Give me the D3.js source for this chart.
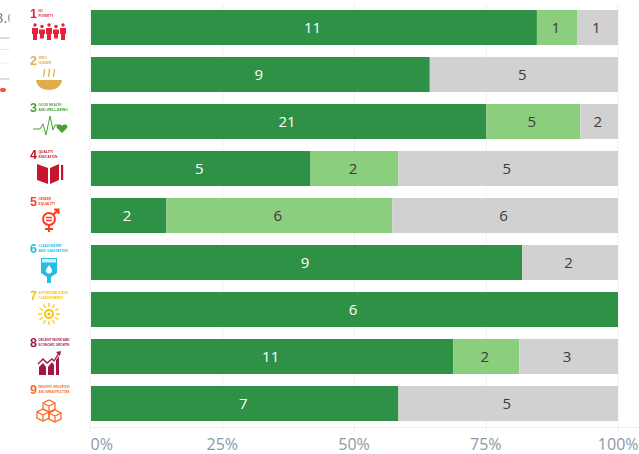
<!DOCTYPE html>
<html><head><meta charset="utf-8">
<script src="https://cdn.jsdelivr.net/npm/d3@7"></script>
<style>html,body{margin:0;padding:0;background:#fff;overflow:hidden}svg{display:block}</style>
</head><body><svg id="c" width="639" height="454"></svg>
<script>
const goals = ["1","2","3","4","5","6","7","8","9"];
const goalLines = [
  ["NO","POVERTY"],["ZERO","HUNGER"],["GOOD HEALTH","AND WELL-BEING"],["QUALITY","EDUCATION"],
  ["GENDER","EQUALITY"],["CLEAN WATER","AND SANITATION"],["AFFORDABLE AND","CLEAN ENERGY"],
  ["DECENT WORK AND","ECONOMIC GROWTH"],["INDUSTRY, INNOVATION","AND INFRASTRUCTURE"]];
const goalColors = ["#e5243b","#e0ad4a","#4c9f38","#c5192d","#ff3a21","#26bde2","#fcc30b","#a21942","#fd6925"];
const dark = [11,9,21,5,2,9,6,11,7];
const light = [1,0,5,2,6,0,0,2,0];
const grey = [1,5,2,5,6,2,0,3,5];
const tickValues = [0,.25,.5,.75,1];
const segColors = ["#2e9145","#8ace7e","#d1d1d1"];
const textColors = ["#ffffff","#3c3c3c","#3c3c3c"];

const svg = d3.select("#c");
const defs = svg.append("defs");
defs.append("filter").attr("id","soft").append("feGaussianBlur").attr("stdDeviation",0.5);
defs.append("clipPath").attr("id","fragClip").append("rect").attr("width",9.5).attr("height",100);

const x = d3.scaleLinear().domain([0,1]).range([91,618]);
const y = d3.scaleBand().domain(goals).range([4,427]).paddingInner(12/47).paddingOuter(6/47);

// grid
const grid = svg.append("g");
grid.selectAll("line.v").data(tickValues).join("line")
  .attr("x1",d=>x(d)-(d===0?1:0)).attr("x2",d=>x(d)-(d===0?1:0)).attr("y1",4).attr("y2",432)
  .attr("stroke","#f0f0f0").attr("stroke-width",1);
grid.append("line").attr("x1",90).attr("x2",639).attr("y1",427.5).attr("y2",427.5).attr("stroke","#f0f0f0");

// bars
const rows = goals.map((g,i)=>{
  const vals=[dark[i],light[i],grey[i]], total=d3.sum(vals); let c=0;
  return vals.map((v,k)=>{const s={g,k,v,a:c/total,b:(c+v)/total};c+=v;return s;}).filter(s=>s.v>0);
}).flat();
svg.append("g").selectAll("rect").data(rows).join("rect")
  .attr("x",d=>x(d.a)).attr("width",d=>x(d.b)-x(d.a))
  .attr("y",d=>y(d.g)).attr("height",y.bandwidth()).attr("fill",d=>segColors[d.k]);
svg.append("g").selectAll("text").data(rows).join("text")
  .attr("x",d=>x((d.a+d.b)/2)).attr("y",d=>y(d.g)+y.bandwidth()/2+0.5)
  .attr("dx",-1.5).attr("dy","0.35em").attr("text-anchor","middle")
  .attr("font-family","'Open Sans',sans-serif").attr("font-size",15)
  .attr("fill",d=>textColors[d.k]).text(d=>d.v);

// axis
const axis = svg.append("g").attr("transform","translate(0,432)")
  .call(d3.axisBottom(x).tickValues(tickValues).tickFormat(d3.format(".0%")).tickSize(0).tickPadding(7));
axis.select(".domain").remove();
axis.selectAll("text").attr("font-family","'Open Sans',sans-serif").attr("font-size",16).attr("fill","#8c99a6")
  .attr("text-anchor",d=>d===0?"start":d===1?"end":"middle")
  .attr("dx",d=>d===0?-1:d===1?20:-1);

// goal icons
const icon = svg.append("g").attr("filter","url(#soft)");
goals.forEach((g,i)=>{
  const t = y(g)-10, col = goalColors[i];
  const G = icon.append("g").attr("transform",`translate(0,${t})`);
  G.append("text").attr("x",30).attr("y",18).attr("font-family","'Liberation Sans Narrow','Liberation Sans',sans-serif")
    .attr("font-weight","bold").attr("font-size",12.5).attr("fill",col).text(g);
  goalLines[i].forEach((l,j)=>G.append("text").attr("x",38.5).attr("y",12+j*4.6)
    .attr("font-family","'Liberation Sans',sans-serif").attr("font-weight","bold").attr("font-size",3.4)
    .attr("textLength",Math.min(l.length*2.1,31)).attr("lengthAdjust","spacingAndGlyphs")
    .attr("fill",col).text(l));
  const ic = G.append("g").attr("transform","translate(49,32)").attr("fill",col).attr("stroke","none");
  drawIcon(ic,i,col);
});

function drawIcon(s,i,col){
  const st=(sel,w)=>sel.attr("fill","none").attr("stroke",col).attr("stroke-width",w);
  if(i===0){ // people
    [-14,-7,0,7,14].forEach((cx,k)=>{
      const h=k%2?0.75:1;
      s.append("circle").attr("cx",cx).attr("cy",-7+(1-h)*6).attr("r",1.7);
      s.append("path").attr("d",`M${cx-3},${-4+(1-h)*6}h6v${6*h}h-1v${6*h}h-4v${-6*h}h-1z`);
    });
  } else if(i===1){ // soup bowl
    s.append("path").attr("d","M-13,1H13C12,8 6,11 0,11S-12,8 -13,1Z");
    [-5,0,5].forEach(dx=>st(s.append("path").attr("d",`M${dx},-2c-2,-3 2,-4 0,-8`),1.3));
  } else if(i===2){ // heartbeat + heart
    st(s.append("path").attr("d","M-16,3H-9L-6,-2L-3,9L1,-10L4,4L6,-1H9"),1);
    s.append("path").attr("d","M13,7L8,2C6,-1 11,-3 13,0C15,-3 20,-1 18,2Z");
  } else if(i===3){ // book + pencil
    s.append("path").attr("d","M-12,-9L-1,-5V11L-12,7Z");
    s.append("path").attr("d","M10,-9L1,-5V11L10,7Z");
    s.append("rect").attr("x",12).attr("y",-8).attr("width",2.2).attr("height",15);
  } else if(i===4){ // gender
    st(s.append("circle").attr("cx",0).attr("cy",-1).attr("r",6),2);
    st(s.append("path").attr("d","M0,5V12M-4,9H4M4,-5L9,-10M5,-10.5H9.5V-6"),2);
    st(s.append("path").attr("d","M-3,-2.5H3M-3,0.5H3"),1.4);
  } else if(i===5){ // glass and drop
    s.append("path").attr("d","M-8,-9H8V6L2,10V16H-2V10L-8,6Z");
    s.append("path").attr("d","M0,-2C2,1 3,2 3,3.5A3,3 0 0 1 -3,3.5C-3,2 -2,1 0,-2Z").attr("fill","#fff");
    s.append("rect").attr("x",-7).attr("y",-8).attr("width",14).attr("height",3.5).attr("fill","#fff").attr("opacity",.8);
  } else if(i===6){ // sun
    st(s.append("circle").attr("cx",0).attr("cy",0).attr("r",4),2);
    s.append("circle").attr("r",1.6);
    d3.range(12).forEach(k=>{const a=k*Math.PI/6;
      st(s.append("line").attr("x1",7*Math.cos(a)).attr("y1",7*Math.sin(a))
        .attr("x2",11*Math.cos(a)).attr("y2",11*Math.sin(a)),1.3);});
  } else if(i===7){ // growth
    s.append("path").attr("d","M-10,14V6L-6,2L-3,6V14ZM-1,14V6L3,1L5,4V14ZM7,14V-1L10,-5V14Z");
    st(s.append("path").attr("d","M-11,3L-6,-2L-2,2L3,-2L5,0L10,-8"),1.4);
    s.append("path").attr("d","M7,-9L12,-10L11,-5Z");
  } else { // cubes
    const cube=(cx,cy)=>{
      st(s.append("path").attr("d",`M${cx},${cy-6}L${cx+6},${cy-3}V${cy+3}L${cx},${cy+6}L${cx-6},${cy+3}V${cy-3}ZM${cx-6},${cy-3}L${cx},${cy}L${cx+6},${cy-3}M${cx},${cy}V${cy+6}`),1.3);
    };
    cube(0,-2);cube(-6,7);cube(6,8);
  }
}

// clipped neighbouring sheet at far left
const frag = svg.append("g").attr("clip-path","url(#fragClip)").append("g").attr("filter","url(#soft)");
frag.append("text").attr("x",-5).attr("y",23).attr("font-family","'Open Sans',sans-serif").attr("font-size",15).attr("fill","#777").text("3.0");
[[38,"#bbb"],[49.5,"#e6e6e6"],[63,"#eaeaea"],[79,"#bbb"]].forEach(([yy,c])=>
  frag.append("line").attr("x1",0).attr("x2",10).attr("y1",yy).attr("y2",yy).attr("stroke",c));
frag.append("rect").attr("x",0).attr("y",88).attr("width",6).attr("height",4).attr("rx",2).attr("fill","#f7563a");
</script></body></html>
